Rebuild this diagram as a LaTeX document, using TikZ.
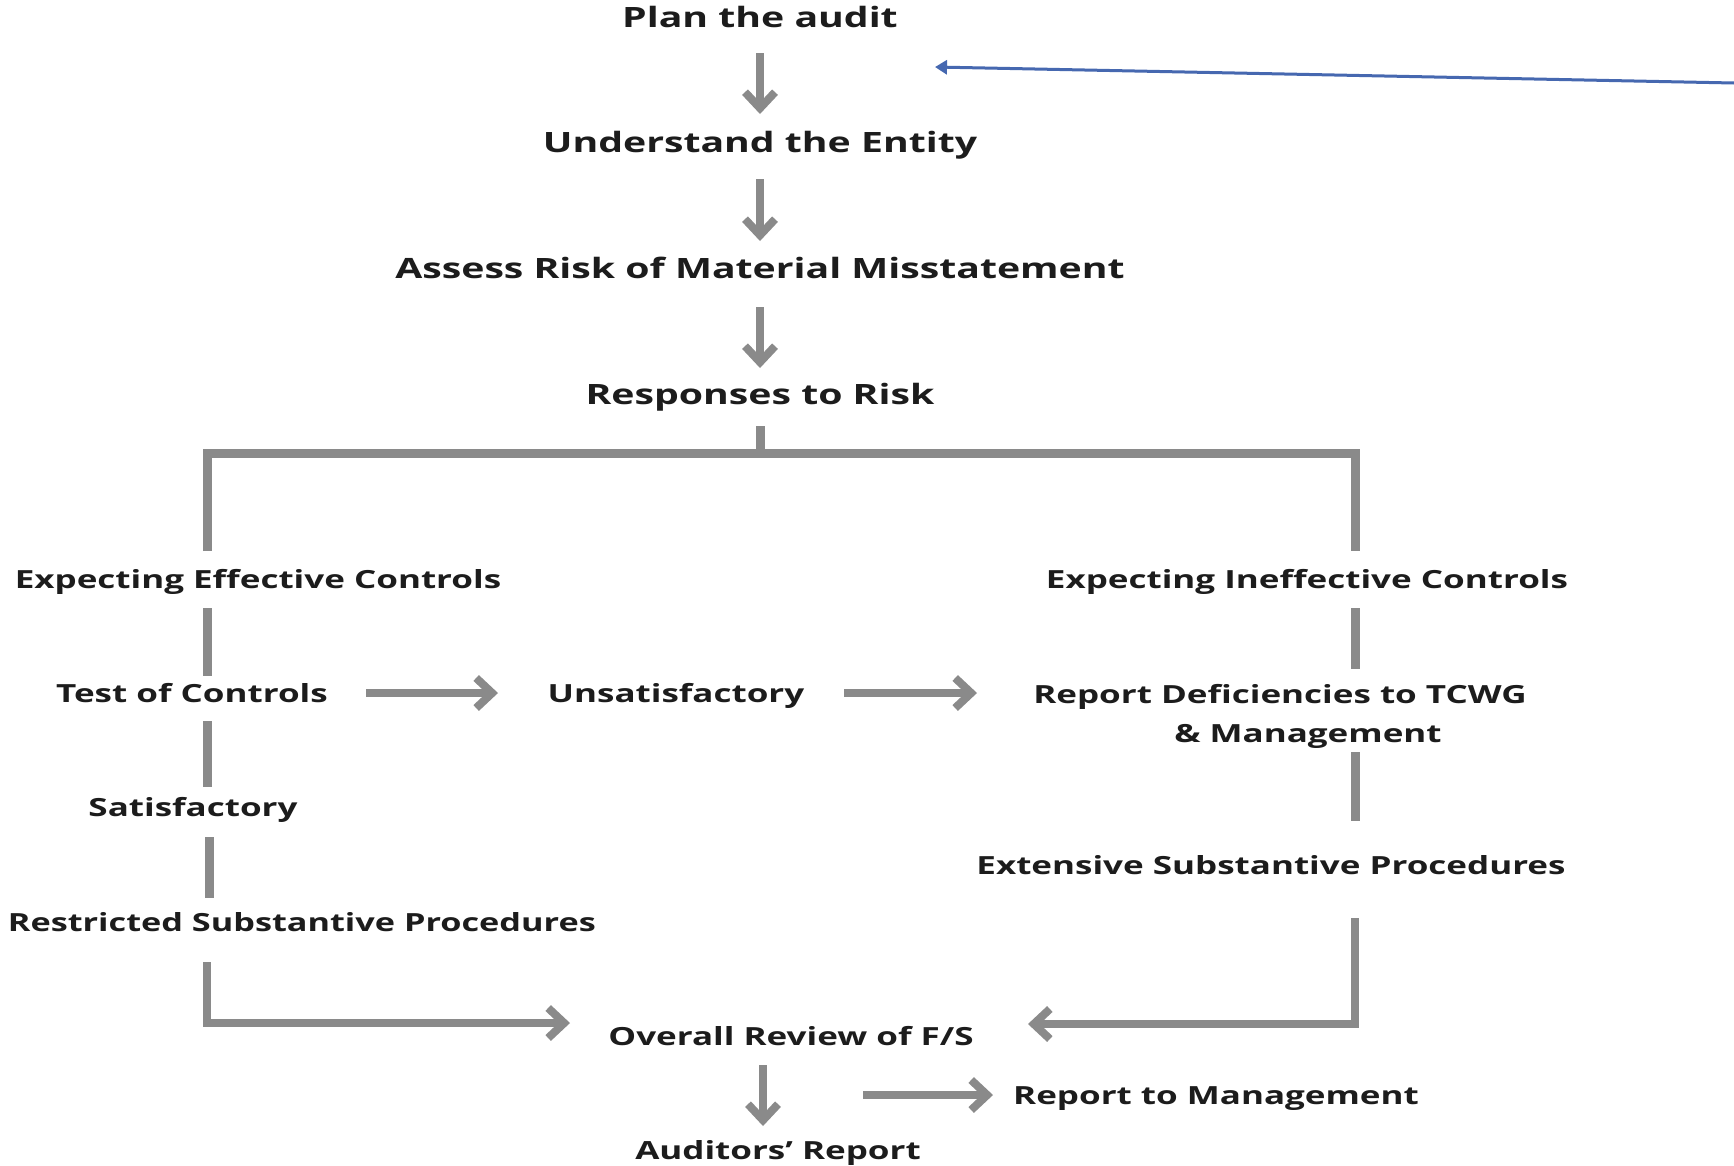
\documentclass[tikz,border=0pt]{standalone}
\usepackage{fontspec}
\setmainfont{Open Sans}
\usetikzlibrary{arrows.meta}
\definecolor{lg}{HTML}{8A8A8A}
\definecolor{tx}{HTML}{1C1C1C}
\definecolor{bl}{HTML}{4668B0}
\newcommand\wideT[1]{\scalebox{1.4}[1]{#1}}
\tikzset{
  lbl/.style={inner sep=0pt, text=tx, text height=25.2pt, text depth=5pt, font=\fontsize{28}{39}\selectfont\bfseries},
  lbls/.style={lbl, text height=22.5pt, text depth=4.5pt, font=\fontsize{25}{39}\selectfont\bfseries},
  gline/.style={draw=lg, line width=9pt},
  garrow/.style={draw=lg, line width=8pt, -{Straight Barb[length=16pt,width=30pt,line width=8pt]}},
}
\begin{document}
\begin{tikzpicture}[x=1pt,y=-1pt]
\useasboundingbox (0,0) rectangle (1734,1165);
\fill[white] (0,0) rectangle (1734,1165);
\node[lbl] (plan) at (760,17) {\wideT{Plan the audit}};
\node[lbl] (und) at (760,142) {\wideT{Understand the Entity}};
\node[lbl] (assess) at (760,268) {\wideT{Assess Risk of Material Misstatement}};
\node[lbl] (resp) at (760,394) {\wideT{Responses to Risk}};
\node[lbls] (eec) at (258,579) {\wideT{Expecting Effective Controls}};
\node[lbls] (eic) at (1307,579) {\wideT{Expecting Ineffective Controls}};
\node[lbls] (toc) at (192,693) {\wideT{Test of Controls}};
\node[lbls] (unsat) at (676,693) {\wideT{Unsatisfactory}};
\node[lbls, align=center] (rep) at (1280,733) {\wideT{Report Deficiencies to TCWG}\\\hspace*{56pt}\wideT{\& Management}};
\node[lbls] (sat) at (193,807) {\wideT{Satisfactory}};
\node[lbls] (ext) at (1271,865) {\wideT{Extensive Substantive Procedures}};
\node[lbls, anchor=east] (restr) at (596,922) {\scalebox{1.37}[1]{Restricted Substantive Procedures}};
\node[lbls] (overall) at (791,1036) {\wideT{Overall Review of F/S}};
\node[lbls] (rtm) at (1216,1095) {\wideT{Report to Management}};
\node[lbls] (aud) at (778,1150) {\wideT{Auditors’ Report}};
\coordinate (L) at (207,453);
\coordinate (R) at (1355,453);
\coordinate (blueS) at (1734,83);
\coordinate (blueE) at (935,67);
% top chain
\draw[garrow, shorten <=36pt, shorten >=28pt] (plan.center) -- (und.center);
\draw[garrow, shorten <=37pt, shorten >=27pt] (und.center) -- (assess.center);
\draw[garrow, shorten <=39pt, shorten >=26pt] (assess.center) -- (resp.center);
% split
\draw[gline] ([yshift=-32pt]resp.center) -- (resp.center |- L);
\draw[gline, line join=miter] ([yshift=28pt]L |- eec.center) -- (L) -- (R) -- ([yshift=28pt]R |- eic.center);
% left column
\draw[gline] ([yshift=-29pt]L |- eec.center) -- ([yshift=17pt]L |- toc.center);
\draw[gline] ([yshift=-28pt]L |- toc.center) -- ([yshift=20pt]L |- sat.center);
\draw[gline] ([xshift=2pt,yshift=-30pt]L |- sat.center) -- ([xshift=2pt,yshift=24pt]L |- restr.center);
\draw[garrow, line join=miter] ([yshift=-40pt]L |- restr.center) |- ([xshift=-221pt,yshift=13pt]overall.center);
% right column
\draw[gline] ([yshift=-29pt]R |- eic.center) -- ([yshift=64pt]R |- rep.center);
\draw[gline] ([yshift=-19pt]R |- rep.center) -- ([yshift=44pt]R |- ext.center);
\draw[garrow, line join=miter] ([yshift=-53pt]R |- ext.center) |- ([xshift=237pt,yshift=12pt]overall.center);
% horizontals
\draw[garrow, shorten <=174pt, shorten >=178pt] (toc.center) -- (unsat.center);
\draw[garrow, shorten <=168pt, shorten >=303pt] (unsat.center) -- (unsat.center -| rep.center);
% bottom
\draw[garrow, shorten <=29pt, shorten >=24pt] ([xshift=-28pt]overall.center) -- ([xshift=-28pt]overall.center |- aud.center);
\draw[garrow, shorten <=72pt, shorten >=223pt] (overall.center |- rtm.center) -- (rtm.center);
% blue annotation
\draw[bl, line width=3pt, -{Triangle[length=12pt,width=14pt]}] (blueS) -- (blueE);
\end{tikzpicture}
\end{document}
